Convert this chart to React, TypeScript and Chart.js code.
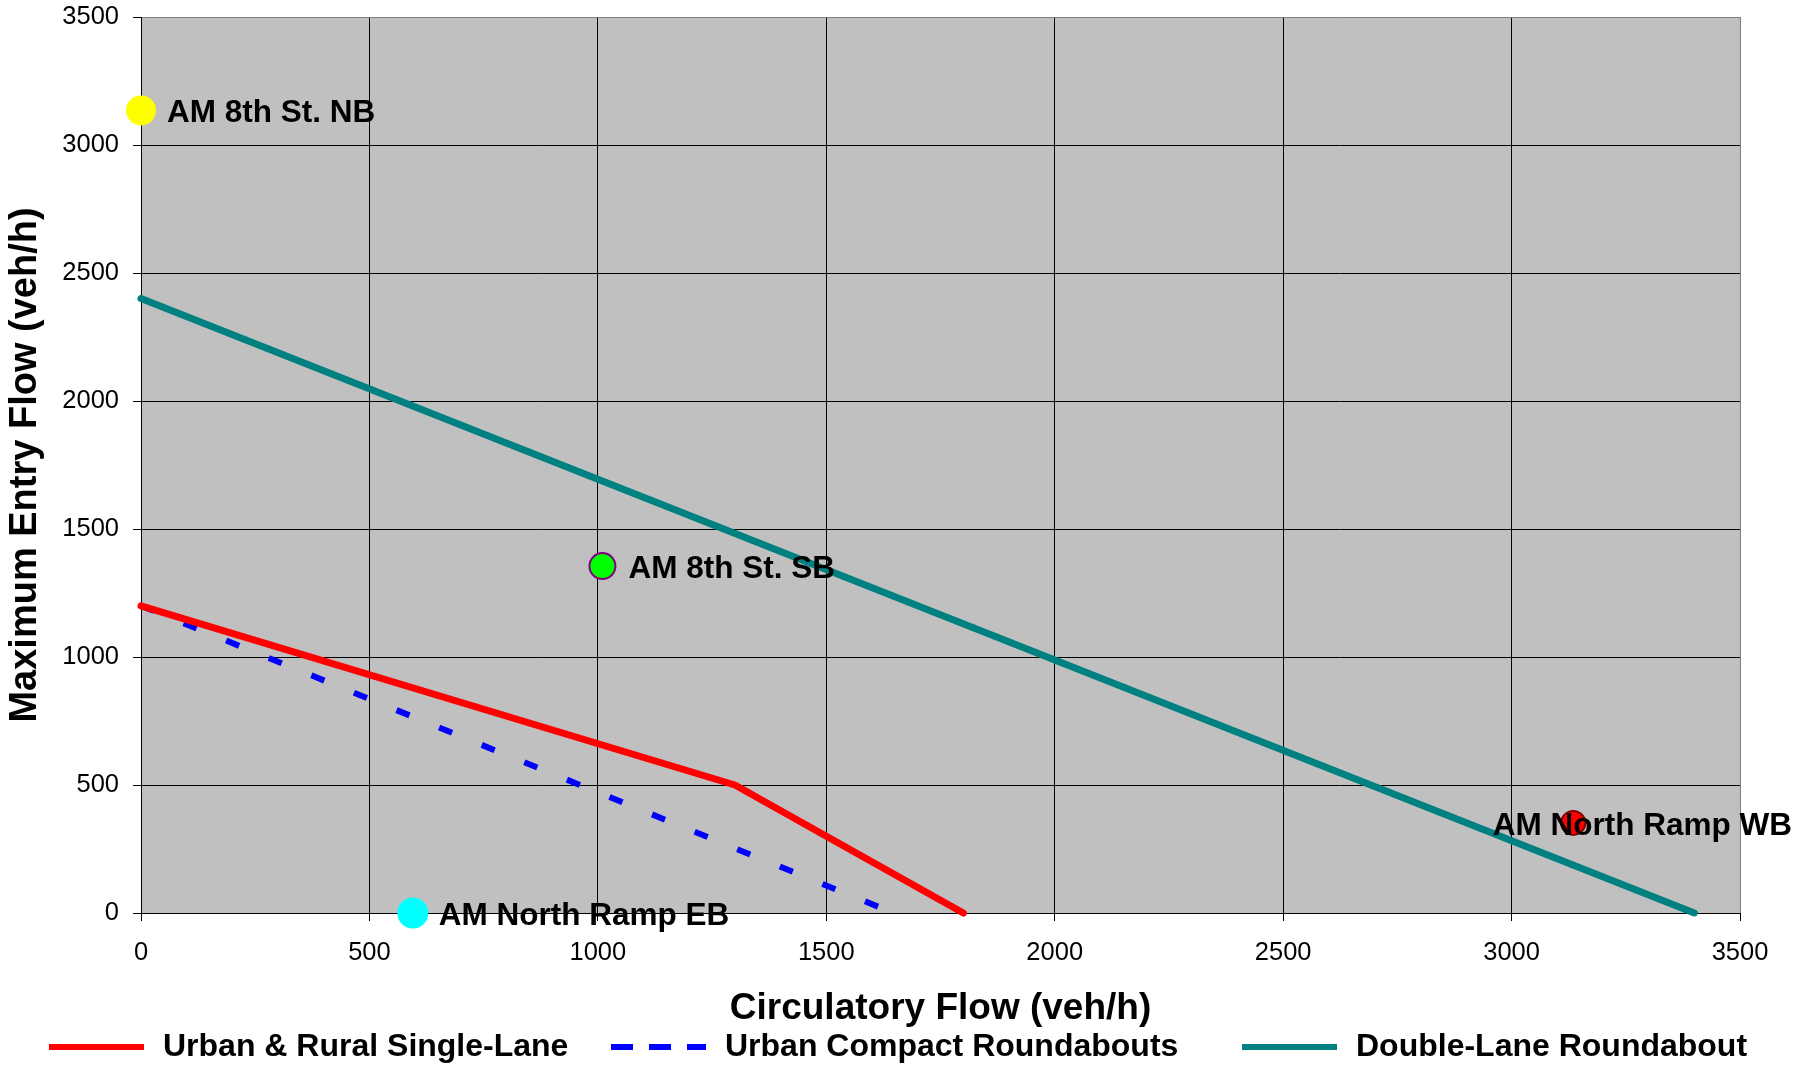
import React, { useEffect, useRef } from 'react';
import { Chart, registerables } from 'chart.js';

Chart.register(...registerables);

const FONT = '"Liberation Sans", Arial, Helvetica, sans-serif';

// ---- data ----
const seriesNames = ['Urban & Rural Single-Lane', 'Urban Compact Roundabouts', 'Double-Lane Roundabout'];
const singleLaneCirc = [0, 1300, 1800];
const singleLaneEntry = [1200, 500, 0];
const compactCirc = [0, 1620];
const compactEntry = [1200, 20];
const doubleLaneCirc = [0, 3400];
const doubleLaneEntry = [2400, 0];

const pointNames = ['AM 8th St. NB', 'AM 8th St. SB', 'AM North Ramp EB', 'AM North Ramp WB'];
const pointCirc = [0, 1010, 595, 3135];
const pointEntry = [3135, 1355, 0, 352];

const axisMin = 0;
const axisMax = 3500;
const axisStep = 500;
const xTitle = 'Circulatory Flow (veh/h)';
const yTitle = 'Maximum Entry Flow (veh/h)';

// ---- styles ----
const lineColors = ['#FF0000', '#0000FF', '#008080'];
const lineDashes = [[], [14, 32], []];
const legendDashes = [[], [22, 16], []];
const pointFill = ['#FFFF00', '#00FF00', '#00FFFF', '#FF0000'];
const pointBorder = ['#FFFF00', '#800080', '#00FFFF', '#800000'];
const pointRadius = [14, 13, 14.5, 12];
const legendStartX = [49, 611, 1242];

const zip = (xs: number[], ys: number[]) => xs.map((x, i) => ({ x, y: ys[i] }));

const bgPlugin = {
  id: 'plotBg',
  beforeDraw(chart: any) {
    const { ctx, chartArea } = chart;
    ctx.save();
    ctx.fillStyle = '#C0C0C0';
    ctx.fillRect(chartArea.left, chartArea.top, chartArea.right - chartArea.left, chartArea.bottom - chartArea.top);
    ctx.restore();
  },
};

const labelPlugin = {
  id: 'pointLabels',
  afterDatasetsDraw(chart: any) {
    const { ctx } = chart;
    ctx.save();
    ctx.font = `bold 31.5px ${FONT}`;
    ctx.fillStyle = '#000';
    ctx.textBaseline = 'middle';
    ctx.textAlign = 'left';
    chart.data.datasets.forEach((ds: any, i: number) => {
      if (!ds.pointLabel) return;
      const el = chart.getDatasetMeta(i).data[0];
      if (!el) return;
      const w = ctx.measureText(ds.pointLabel).width;
      let x = el.x + 26;
      if (x + w > chart.width - 24) x = chart.width - 24 - w;
      ctx.fillText(ds.pointLabel, x, el.y + 3);
    });
    ctx.restore();
  },
};

const legendPlugin = {
  id: 'bottomLegend',
  afterDraw(chart: any) {
    const { ctx } = chart;
    const y = 1047;
    ctx.save();
    ctx.font = `bold 32px ${FONT}`;
    ctx.fillStyle = '#000';
    ctx.textBaseline = 'middle';
    ctx.textAlign = 'left';
    seriesNames.forEach((name, i) => {
      const x0 = legendStartX[i];
      ctx.beginPath();
      ctx.strokeStyle = lineColors[i];
      ctx.lineWidth = 6;
      ctx.lineCap = 'butt';
      ctx.setLineDash(legendDashes[i]);
      ctx.moveTo(x0, y);
      ctx.lineTo(x0 + 95, y);
      ctx.stroke();
      ctx.setLineDash([]);
      ctx.fillText(name, x0 + 114, y);
    });
    ctx.restore();
  },
};

export default function App() {
  const ref = useRef<HTMLCanvasElement | null>(null);

  useEffect(() => {
    if (!ref.current) return;
    const lineSets = [
      zip(singleLaneCirc, singleLaneEntry),
      zip(compactCirc, compactEntry),
      zip(doubleLaneCirc, doubleLaneEntry),
    ].map((data, i) => ({
      label: seriesNames[i],
      data,
      showLine: true,
      borderColor: lineColors[i],
      backgroundColor: lineColors[i],
      borderWidth: i === 1 ? 6 : 7,
      borderDash: lineDashes[i],
      borderCapStyle: i === 1 ? 'butt' : 'round',
      borderJoinStyle: 'round',
      pointRadius: 0,
      pointHoverRadius: 0,
      fill: false,
      tension: 0,
      clip: false,
    }));
    const pointSets = pointNames.map((name, i) => ({
      label: name,
      pointLabel: name,
      data: [{ x: pointCirc[i], y: pointEntry[i] }],
      showLine: false,
      pointRadius: pointRadius[i],
      pointHoverRadius: pointRadius[i],
      backgroundColor: pointFill[i],
      borderColor: pointBorder[i],
      pointBorderWidth: 2,
      clip: false,
    }));

    const gridColor = (c: any) => (c.tick && c.tick.value === axisMax ? '#808080' : '#000000');
    const plain = (v: any) => String(v);

    const chart = new Chart(ref.current, {
      type: 'scatter',
      data: { datasets: [...lineSets, ...pointSets] as any },
      plugins: [bgPlugin, labelPlugin, legendPlugin],
      options: {
        animation: false,
        responsive: false,
        layout: { padding: { left: 0, right: 76, top: 17, bottom: 33 } },
        plugins: {
          legend: { display: false },
          tooltip: { enabled: false },
        },
        scales: {
          x: {
            type: 'linear',
            min: axisMin,
            max: axisMax,
            ticks: {
              stepSize: axisStep,
              color: '#000',
              font: { family: FONT, size: 25.5 },
              padding: 17,
              maxRotation: 0,
              callback: plain,
            },
            grid: { color: gridColor, tickColor: '#000', tickLength: 8, lineWidth: 1 },
            border: { color: '#000', width: 1 },
            title: {
              display: true,
              text: xTitle,
              color: '#000',
              font: { family: FONT, size: 37, weight: 'bold' },
              padding: { top: 0, bottom: 1 },
            },
            afterFit(s: any) {
              s.height = 119;
              s.paddingLeft = 0;
              s.paddingRight = 0;
            },
          },
          y: {
            type: 'linear',
            min: axisMin,
            max: axisMax,
            ticks: {
              stepSize: axisStep,
              color: '#000',
              font: { family: FONT, size: 25.5 },
              padding: 14,
              callback: plain,
            },
            grid: { color: gridColor, tickColor: '#000', tickLength: 8, lineWidth: 1 },
            border: { color: '#000', width: 1 },
            title: {
              display: true,
              text: yTitle,
              color: '#000',
              font: { family: FONT, size: 38, weight: 'bold' },
              padding: { top: 3, bottom: 0 },
            },
            afterFit(s: any) {
              s.width = 141;
              s.paddingTop = 0;
              s.paddingBottom = 0;
            },
          },
        },
      } as any,
    });
    return () => chart.destroy();
  }, []);

  return (
    <div style={{ position: 'absolute', left: 0, top: 0, width: 1816, height: 1065, background: '#fff' }}>
      <canvas ref={ref} width={1816} height={1065} />
    </div>
  );
}
